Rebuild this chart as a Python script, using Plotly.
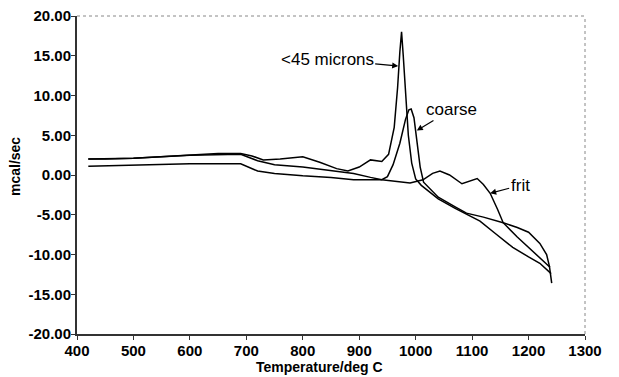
import plotly.graph_objects as go

# <45 microns
t_fine = [420, 450, 500, 550, 600, 650, 690, 710, 730, 760, 800, 830, 860, 880, 900, 920,
          940, 952, 962, 968, 972, 975, 978, 982, 987, 993, 1000, 1010, 1040, 1070, 1090,
          1114, 1140, 1172, 1200, 1220, 1240]
y_fine = [2.0, 2.0, 2.1, 2.3, 2.5, 2.7, 2.7, 2.4, 1.9, 2.0, 2.3, 1.6, 0.8, 0.5, 1.0, 1.9,
          1.7, 2.6, 6.0, 11.0, 15.5, 18.0, 15.0, 10.0, 5.0, 1.5, -0.5, -1.3, -3.0, -4.2, -4.9,
          -5.8, -7.3, -9.1, -10.3, -11.1, -12.4]

# coarse
t_coarse = [420, 500, 600, 650, 690, 720, 750, 800, 850, 890, 920, 940, 950, 960, 972,
            982, 988, 992, 997, 1002, 1008, 1014, 1040, 1070, 1090, 1120, 1155, 1180, 1200,
            1220, 1232, 1237, 1241]
y_coarse = [2.0, 2.1, 2.5, 2.6, 2.6, 1.8, 1.3, 1.0, 0.6, 0.2, -0.3, -0.6, -0.2, 1.3, 4.0,
            7.0, 8.2, 8.3, 7.2, 4.5, 1.0, -0.9, -2.8, -4.0, -4.8, -5.3, -6.0, -6.6, -7.2,
            -8.6, -10.0, -11.5, -13.6]

# frit
t_frit = [420, 500, 600, 690, 720, 750, 800, 850, 890, 940, 990, 1013, 1030, 1043, 1060,
          1082, 1095, 1109, 1120, 1132, 1145, 1155, 1180, 1209, 1238]
y_frit = [1.1, 1.2, 1.4, 1.4, 0.5, 0.2, -0.1, -0.3, -0.6, -0.6, -1.0, -0.6, 0.2, 0.5, 0.0,
          -1.1, -0.8, -0.45, -1.2, -2.3, -4.3, -6.0, -7.8, -9.7, -11.6]

x_ticks = [400, 500, 600, 700, 800, 900, 1000, 1100, 1200, 1300]
y_ticks = [20, 15, 10, 5, 0, -5, -10, -15, -20]
y_tick_labels = ["20.00", "15.00", "10.00", "5.00", "0.00", "-5.00", "-10.00", "-15.00", "-20.00"]

fig = go.Figure()
for t, y in [(t_fine, y_fine), (t_coarse, y_coarse), (t_frit, y_frit)]:
    fig.add_trace(go.Scatter(x=t, y=y, mode="lines", line=dict(color="black", width=1.5),
                             showlegend=False))

lab_font = dict(family="Liberation Sans, Arial", size=17, color="black")
arrow = dict(showarrow=True, arrowhead=2, arrowsize=1, arrowwidth=1.2, arrowcolor="black",
             axref="pixel", ayref="pixel", font=lab_font)
fig.add_annotation(x=969, y=13.7, ax=-71, ay=-7, text="<45 microns", **arrow)
fig.add_annotation(x=1002, y=5.6, ax=35, ay=-21, text="coarse", **arrow)
fig.add_annotation(x=1132, y=-2.3, ax=30, ay=-8, text="frit", **arrow)

tick_font = dict(family="Liberation Sans, Arial", size=15, color="black", weight="bold")
fig.update_xaxes(range=[400, 1300], tickvals=x_ticks, ticks="outside", ticklen=4,
                 tickcolor="#333333", showline=True, linecolor="#333333", linewidth=2,
                 showgrid=False, zeroline=False, tickfont=tick_font, automargin=False,
                 ticklabelstandoff=-2, ticklabeloverflow="allow")
fig.update_yaxes(range=[-20, 20], tickvals=y_ticks, ticktext=y_tick_labels, ticks="outside",
                 ticklen=4, tickcolor="#333333", showline=True, linecolor="#333333", linewidth=2,
                 showgrid=False, zeroline=False, tickfont=tick_font, automargin=False,
                 ticklabelstandoff=-3, ticklabeloverflow="allow")

# dotted top/right frame
fig.add_shape(type="line", xref="paper", yref="paper", x0=0, x1=1, y0=1, y1=1,
              line=dict(color="#888888", width=1, dash="dot"))
fig.add_shape(type="line", xref="paper", yref="paper", x0=1, x1=1, y0=0, y1=1,
              line=dict(color="#888888", width=1, dash="dot"))

title_font = dict(family="Liberation Sans, Arial", size=14, color="black", weight="bold")
fig.add_annotation(text="Temperature/deg C", xref="paper", yref="paper", x=0.478, y=0,
                   yshift=-33, showarrow=False, font=title_font, yanchor="middle")
fig.add_annotation(text="mcal/sec", xref="paper", yref="paper", x=0, y=0.5, xshift=-62,
                   yshift=8, showarrow=False, textangle=-90, font=title_font, xanchor="center")

# the page has an 8px body margin, so the figure is sized to fit inside the window
fig.update_layout(width=611, height=369, margin=dict(l=69, r=34, t=8, b=43),
                  plot_bgcolor="white", paper_bgcolor="white")
fig.write_html("out.html")
